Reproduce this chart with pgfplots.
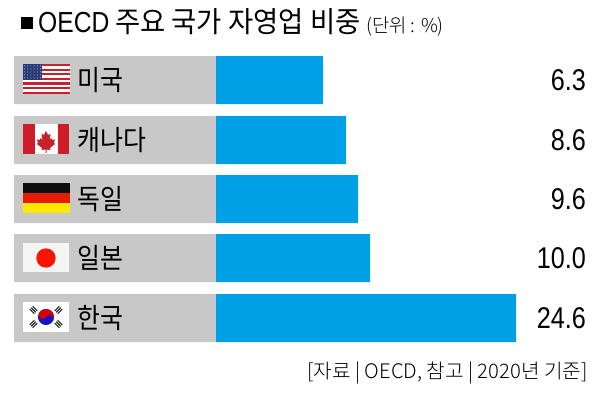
\documentclass[border=0pt]{standalone}
\usepackage{fontspec}
\setmainfont{Liberation Sans}
\newfontfamily\cjk{Noto Sans CJK KR}
\newfontfamily\cjkl{Noto Sans CJK KR Light}
\usepackage{pgfplots}
\usepackage{pgfplotstable}
\pgfplotsset{compat=1.18}
\definecolor{barblue}{HTML}{00A0E6}
\definecolor{bargray}{HTML}{C8C8C8}
\definecolor{flagred}{HTML}{C8202C}
\definecolor{flagnavy}{HTML}{2A3A78}
\pgfplotstableread{
y   gray  blue  pos  name     value
80  -202  107   369  미국     6.3
140 -202  130   369  캐나다   8.6
199 -202  142   369  독일     9.6
258 -202  154   369  일본     10.0
318 -202  300   369  한국     24.6
}\shares
\begin{document}
\begin{tikzpicture}
\useasboundingbox (0,0) rectangle (600pt,410pt);
\begin{axis}[
  at={(0,0)}, anchor=south west,
  width=600pt, height=410pt, scale only axis,
  xmin=-216, xmax=384, ymin=0, ymax=410, y dir=reverse,
  hide axis, clip=false,
  point meta=explicit symbolic,
]
\addplot[xbar, bar shift=0pt, bar width=48pt, fill=bargray, draw=none,
  nodes near coords,
  nodes near coords align={anchor=west},
  nodes near coords style={xshift=63pt, inner sep=0pt, text=black,
    font=\fontsize{28}{28}\selectfont\cjk, xscale=.89}]
  table[x=gray, y=y, meta=name] {\shares};
\addplot[xbar, bar shift=0pt, bar width=48pt, fill=barblue, draw=none]
  table[x=blue, y=y, meta=name] {\shares};
\addplot[draw=none, mark=none,
  nodes near coords,
  nodes near coords align={anchor=east},
  nodes near coords style={inner sep=0pt, text=black, xshift=1pt,
    font=\fontsize{30}{30}\selectfont, xscale=.84}]
  table[x=pos, y=y, meta=value] {\shares};
\end{axis}
\begin{scope}[shift={(0,410pt)}, x=1pt, y=-1pt]
  % title
  \fill[black] (21,17) rectangle (33,29);
  \node[anchor=base west, inner sep=0pt, xscale=.85] at (38,33)
    {\fontsize{29}{29}\selectfont OECD};
  \node[anchor=base west, inner sep=0pt, xscale=.945] at (115,33)
    {\fontsize{29}{29}\selectfont\cjk 주요 국가 자영업 비중};
  \node[anchor=base west, inner sep=0pt, xscale=.99] at (366,33)
    {\fontsize{19}{19}\selectfont\cjkl (단위 : \%)};
  % source
  \node[anchor=base east, inner sep=0pt, xscale=1.01] at (588,379)
    {\fontsize{20}{20}\selectfont\cjkl [자료 | OECD, 참고 | 2020년 기준]};
  % USA
  \fill[white] (23,64) rectangle (70,94);
  \foreach \i in {0,2,...,12}
    \fill[flagred] (23,64+\i*2.3) rectangle (70,64+\i*2.3+2.3);
  \fill[flagnavy] (23,64) rectangle (42,80);
  \foreach \a in {0,...,5} \foreach \b in {0,...,4}
    \fill[white!80!flagnavy] (24.5+\a*3.2,66+\b*3) circle (.5);
  % Canada
  \fill[flagred!90!red] (23,124) rectangle (69,154);
  \fill[white] (34.5,124) rectangle (58,154);
  \fill[flagred] (46,131) -- (48,135) -- (50.5,134) -- (49.5,140) -- (51.5,138)
     -- (52,140) -- (55,139.5) -- (54,143) -- (55,144) -- (50,148) -- (50.5,150)
     -- (46.5,149.5) -- (46.5,153) -- (45.5,153) -- (45.5,149.5) -- (41.5,150)
     -- (42,148) -- (37,144) -- (38,143) -- (37,139.5) -- (40,140) -- (40.5,138)
     -- (42.5,140) -- (41.5,134) -- (44,135) -- cycle;
  % Germany
  \fill[black!95] (23,183) rectangle (70,193);
  \fill[red!75!orange!90!black] (23,193) rectangle (70,203);
  \fill[yellow!90!orange] (23,203) rectangle (70,213);
  % Japan
  \fill[white!96!black] (23,243) rectangle (69,272.5);
  \fill[red!85!orange] (46,258) circle (9.7);
  % Korea
  \fill[white] (23,302) rectangle (69,332);
  \begin{scope}[shift={(46,317)}, rotate=-30]
    \fill[blue!60!flagnavy] (0,0) circle (8);
    \fill[red!85!black] (-8,0) arc (180:360:8) arc (0:-180:4) arc (0:180:4) -- cycle;
  \end{scope}
  \foreach \r/\cx/\cy in {-45/33.5/310, 45/58.5/310, 45/33.5/324, -45/58.5/324}
    \foreach \o in {-2,0,2}
      \fill[black!85, shift={(\cx,\cy)}, rotate=\r] (-3.2,\o-.55) rectangle (3.2,\o+.55);
\end{scope}
\end{tikzpicture}
\end{document}
